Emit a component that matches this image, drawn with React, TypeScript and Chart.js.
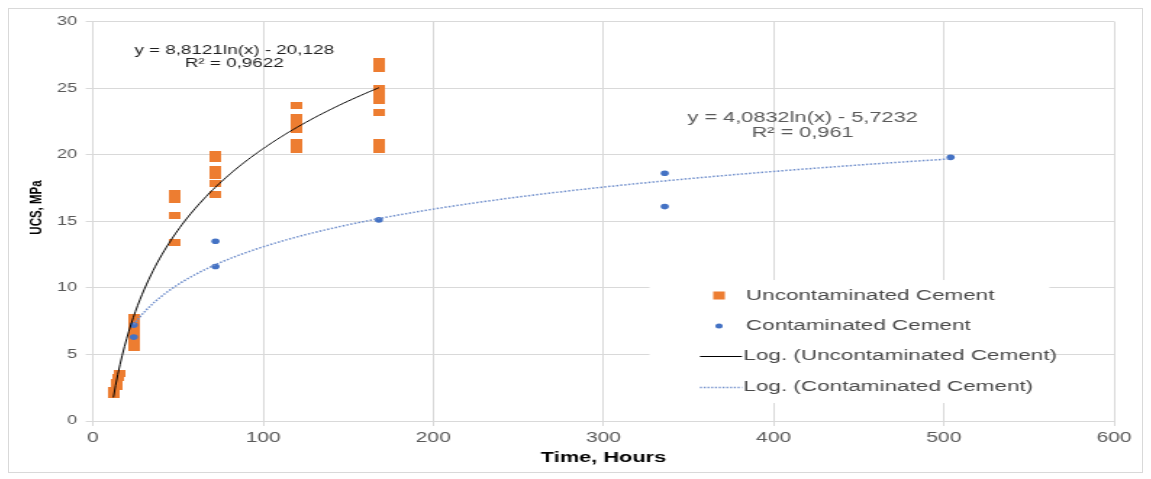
import React, { useEffect, useRef } from "react";
import { Chart, registerables } from "chart.js";

Chart.register(...registerables);

// ---------- data ----------
const UNCONTAM_X = [12, 12, 14, 14, 15, 16, 24, 24, 24, 24, 24, 24, 48, 48, 48, 48, 72, 72, 72, 72, 72, 72, 120, 120, 120, 120, 120, 120, 168, 168, 168, 168, 168, 168, 168, 168];
const UNCONTAM_Y = [2.0, 2.3, 2.6, 2.9, 3.3, 3.6, 5.5, 6.0, 6.5, 7.0, 7.5, 7.8, 13.4, 15.4, 16.6, 17.1, 17.0, 17.8, 18.4, 18.9, 19.7, 20.0, 20.4, 20.9, 21.9, 22.3, 22.8, 23.7, 20.4, 20.9, 23.2, 24.1, 24.6, 25.0, 26.5, 27.0];

const CONTAM_X = [24, 24, 72, 72, 168, 336, 336, 504];
const CONTAM_Y = [6.3, 7.2, 11.6, 13.5, 15.1, 16.1, 18.6, 19.8];

// logarithmic trendline coefficients as printed on the chart: y = a ln(x) + b
const TREND_UNCONTAM = [8.8121, -20.128];
const TREND_UNCONTAM_RANGE = [12, 168];
const TREND_CONTAM = [4.0832, -5.7232];
const TREND_CONTAM_RANGE = [24, 504];

const X_RANGE = [0, 600];
const X_STEP = 100;
const Y_RANGE = [0, 30];
const Y_STEP = 5;

const SERIES_NAMES = [
  "Uncontaminated Cement",
  "Contaminated Cement",
  "Log. (Uncontaminated Cement)",
  "Log. (Contaminated Cement)",
];
const EQ_UNCONTAM = ["y = 8,8121ln(x) - 20,128", "R\u00B2 = 0,9622"];
const EQ_CONTAM = ["y = 4,0832ln(x) - 5,7232", "R\u00B2 = 0,961"];
const X_TITLE = "Time, Hours";
const Y_TITLE = "UCS, MPa";

// ---------- styling ----------
const FONT = "'Liberation Sans', Arial, sans-serif";
const ORANGE = "#ED7D31";
const BLUE = "#4472C4";
const DOT_BLUE = "#6f8ecb";
const GRID = "#d9d9d9";
const STRETCH = 1135 / 783;

function trendPoints(coef: number[], range: number[]) {
  const pts: { x: number; y: number }[] = [];
  const n = 120;
  for (let i = 0; i <= n; i++) {
    const x = range[0] + ((range[1] - range[0]) * i) / n;
    pts.push({ x, y: coef[0] * Math.log(x) + coef[1] });
  }
  return pts;
}

function rectMarker(w: number, h: number, color: string) {
  const c = document.createElement("canvas");
  c.width = w;
  c.height = h;
  const g = c.getContext("2d")!;
  g.fillStyle = color;
  g.fillRect(0, 0, w, h);
  return c;
}

export default function App() {
  const ref = useRef<HTMLCanvasElement>(null);

  useEffect(() => {
    if (!ref.current) return;
    const orangeMarker = rectMarker(8, 7, ORANGE);

    const overlay = {
      id: "overlay",
      beforeDatasetsDraw(chart: any) {
        const { ctx, scales } = chart;
        const x = scales.x;
        ctx.save();
        ctx.fillStyle = "#ffffff";
        const l = x.getPixelForValue(327);
        const r = x.getPixelForValue(562);
        ctx.fillRect(l, 272, r - l, 123);
        ctx.restore();
      },
      afterDraw(chart: any) {
        const { ctx, scales } = chart;
        const x = scales.x;
        const y = scales.y;
        ctx.save();

        // y title
        ctx.save();
        ctx.translate(20, 199.5);
        ctx.rotate(-Math.PI / 2);
        ctx.font = `bold 11.5px ${FONT}`;
        ctx.fillStyle = "#000";
        ctx.textAlign = "center";
        ctx.textBaseline = "middle";
        ctx.fillText(Y_TITLE, 0, 0);
        ctx.restore();

        // equations
        ctx.textAlign = "center";
        ctx.textBaseline = "middle";
        ctx.font = `13px ${FONT}`;
        ctx.fillStyle = "#1f1f1f";
        const e1x = x.getPixelForValue(83);
        const e1y = y.getPixelForValue(27.83);
        ctx.fillText(EQ_UNCONTAM[0], e1x, e1y);
        ctx.fillText(EQ_UNCONTAM[1], e1x, e1y + 13);

        ctx.font = `15px ${FONT}`;
        ctx.fillStyle = "#595959";
        const e2x = x.getPixelForValue(417);
        const e2y = y.getPixelForValue(22.74);
        ctx.fillText(EQ_CONTAM[0], e2x, e2y);
        ctx.fillText(EQ_CONTAM[1], e2x, e2y + 15);

        // legend
        const mx = x.getPixelForValue(367.9);
        const tx = x.getPixelForValue(383.7);
        const lx0 = x.getPixelForValue(356.7);
        const lx1 = x.getPixelForValue(381.4);
        const rows = [288, 318, 348, 379];
        ctx.font = `15.5px ${FONT}`;
        ctx.textAlign = "left";
        rows.forEach((ry, i) => {
          ctx.fillStyle = "#4a4a4a";
          ctx.fillText(SERIES_NAMES[i], i < 2 ? tx : lx1 + 1, ry);
        });
        ctx.fillStyle = ORANGE;
        ctx.fillRect(mx - 4, rows[0] - 4.5, 8, 8);
        ctx.fillStyle = BLUE;
        ctx.beginPath();
        ctx.arc(mx, rows[1], 2.5, 0, Math.PI * 2);
        ctx.fill();
        ctx.strokeStyle = "#000";
        ctx.lineWidth = 1;
        ctx.beginPath();
        ctx.moveTo(lx0, rows[2] + 0.5);
        ctx.lineTo(lx1, rows[2] + 0.5);
        ctx.stroke();
        ctx.strokeStyle = DOT_BLUE;
        ctx.lineWidth = 1.3;
        ctx.setLineDash([1.3, 1.3]);
        ctx.beginPath();
        ctx.moveTo(lx0, rows[3] + 0.5);
        ctx.lineTo(lx1, rows[3] + 0.5);
        ctx.stroke();
        ctx.restore();
      },
    };

    const chart = new Chart(ref.current, {
      type: "scatter",
      data: {
        datasets: [
          {
            label: SERIES_NAMES[2],
            type: "line",
            data: trendPoints(TREND_UNCONTAM, TREND_UNCONTAM_RANGE),
            borderColor: "#000000",
            borderWidth: 1,
            pointRadius: 0,
            fill: false,
            tension: 0,
            order: 0,
          },
          {
            label: SERIES_NAMES[3],
            type: "line",
            data: trendPoints(TREND_CONTAM, TREND_CONTAM_RANGE),
            borderColor: DOT_BLUE,
            borderWidth: 1.5,
            borderDash: [1.5, 1.3],
            pointRadius: 0,
            fill: false,
            tension: 0,
            order: 1,
          },
          {
            label: SERIES_NAMES[1],
            data: CONTAM_X.map((v, i) => ({ x: v, y: CONTAM_Y[i] })),
            backgroundColor: BLUE,
            borderWidth: 0,
            pointRadius: 2.8,
            order: 2,
          },
          {
            label: SERIES_NAMES[0],
            data: UNCONTAM_X.map((v, i) => ({ x: v, y: UNCONTAM_Y[i] })),
            backgroundColor: ORANGE,
            pointStyle: orangeMarker as any,
            pointRadius: 4,
            order: 3,
          },
        ],
      },
      options: {
        animation: false,
        responsive: false,
        devicePixelRatio: 1,
        layout: { padding: { top: 12, right: 20, left: 0, bottom: 0 } },
        plugins: {
          legend: { display: false },
          tooltip: { enabled: false },
        },
        scales: {
          x: {
            type: "linear",
            min: X_RANGE[0],
            max: X_RANGE[1],
            ticks: {
              stepSize: X_STEP,
              font: { family: FONT, size: 14.5 },
              color: "#595959",
              padding: 3,
            },
            grid: { color: GRID, tickLength: 5 },
            border: { color: GRID },
            title: {
              display: true,
              text: X_TITLE,
              font: { family: FONT, size: 15, weight: "bold" },
              color: "#000",
              padding: { top: 0, bottom: 6 },
            },
            afterFit: (s: any) => {
              s.height = 52;
            },
          },
          y: {
            type: "linear",
            min: Y_RANGE[0],
            max: Y_RANGE[1],
            ticks: {
              stepSize: Y_STEP,
              font: { family: FONT, size: 12.5 },
              color: "#595959",
              padding: 6,
            },
            grid: { color: GRID, tickLength: 5 },
            border: { color: GRID },
            afterFit: (s: any) => {
              s.width = 58.6;
            },
          },
        },
      } as any,
      plugins: [overlay],
    });
    return () => chart.destroy();
  }, []);

  return (
    <div style={{ position: "relative", width: 1135, height: 465, background: "#fff" }}>
      <div
        style={{
          position: "absolute",
          left: 0,
          top: 0,
          width: 783,
          height: 465,
          transform: `scaleX(${STRETCH})`,
          transformOrigin: "0 0",
        }}
      >
        <canvas ref={ref} width={783} height={465} style={{ display: "block" }} />
      </div>
      <div
        style={{
          position: "absolute",
          inset: 0,
          border: "1px solid #d9d9d9",
          pointerEvents: "none",
        }}
      />
    </div>
  );
}
